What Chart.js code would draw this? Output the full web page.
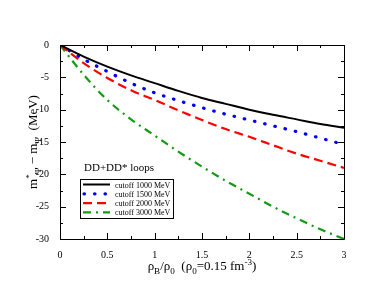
<!DOCTYPE html>
<html><head><meta charset="utf-8">
<script src="https://cdn.jsdelivr.net/npm/chart.js@4/dist/chart.umd.min.js"></script>
<style>html,body{margin:0;padding:0;background:#fff}#c{display:block}</style>
</head><body>
<div style="width:388px;height:300px"><canvas id="c" width="388" height="300"></canvas></div>
<script>
const xValues = [0, 0.25, 0.5, 0.75, 1, 1.25, 1.5, 1.75, 2, 2.25, 2.5, 2.75, 3];
const cutoff1000 = [0, -1.8, -3.35, -4.7, -5.9, -7.1, -8.2, -9.1, -10.0, -10.8, -11.5, -12.2, -12.8];
const cutoff1500 = [0, -2.2, -4.1, -5.9, -7.4, -8.6, -9.7, -10.7, -11.6, -12.5, -13.4, -14.4, -15.4];
const cutoff2000 = [0, -2.8, -5.1, -7.0, -8.5, -10.1, -11.6, -13.0, -14.2, -15.5, -16.8, -17.9, -19.0];
const cutoff3000 = [0, -4.6, -8.5, -11.5, -14.0, -16.5, -18.8, -21.0, -23.0, -25.0, -26.8, -28.5, -30.0];
const seriesLabels = ['cutoff 1000 MeV', 'cutoff 1500 MeV', 'cutoff 2000 MeV', 'cutoff 3000 MeV'];
const xTicks = [0, 0.5, 1, 1.5, 2, 2.5, 3];
const yTicks = [0, -5, -10, -15, -20, -25, -30];
const annotation = 'DD+DD* loops';

const pts = arr => arr.map((v, i) => ({x: xValues[i], y: v}));
const SERIF = '"Liberation Serif", "DejaVu Serif", serif';

const styles = [
  {color: '#000000', width: 2, dash: []},
  {color: '#0000ff', width: 3.2, dash: [0.5, 10], cap: 'round'},
  {color: '#ff0000', width: 2.2, dash: [9, 5]},
  {color: '#149a14', width: 2.2, dash: [8, 5, 2, 5]}
];
const series = [cutoff1000, cutoff1500, cutoff2000, cutoff3000];

const datasets = series.map((s, i) => ({
  label: seriesLabels[i],
  data: pts(s),
  borderColor: styles[i].color,
  borderWidth: styles[i].width,
  borderDash: styles[i].dash,
  borderCapStyle: styles[i].cap || 'butt',
  pointRadius: 0,
  cubicInterpolationMode: 'monotone',
  fill: false
}));

function drawRich(ctx, parts, x, y, size) {
  let cx = x;
  for (const [t, m] of parts) {
    const fs = m ? size * 0.7 : size;
    ctx.font = fs + 'px ' + SERIF;
    const dy = m === 'sub' ? size * 0.3 : m === 'sup' ? -size * 0.4 : 0;
    ctx.fillText(t, cx, y + dy);
    cx += ctx.measureText(t).width;
  }
  return cx - x;
}
function richWidth(ctx, parts, size) {
  let w = 0;
  for (const [t, m] of parts) {
    ctx.font = (m ? size * 0.7 : size) + 'px ' + SERIF;
    w += ctx.measureText(t).width;
  }
  return w;
}

const decor = {
  id: 'decor',
  afterDraw(chart) {
    const ctx = chart.ctx;
    const a = chart.chartArea;
    const xs = chart.scales.x, ys = chart.scales.y;
    ctx.save();
    ctx.strokeStyle = '#000';
    ctx.lineWidth = 1;
    ctx.beginPath();
    ctx.rect(Math.round(a.left) + 0.5, Math.round(a.top) + 0.5, Math.round(a.right - a.left), Math.round(a.bottom - a.top));
    ctx.stroke();
    ctx.beginPath();
    for (let v = 0; v <= 3.0001; v += 0.25) {
      const px = Math.round(xs.getPixelForValue(v)) + 0.5;
      const major = Math.abs(v * 2 - Math.round(v * 2)) < 1e-6;
      const L = major ? 6 : 3;
      ctx.moveTo(px, a.bottom); ctx.lineTo(px, a.bottom - L);
      ctx.moveTo(px, a.top); ctx.lineTo(px, a.top + L);
    }
    for (let v = 0; v >= -30.0001; v -= 2.5) {
      const py = Math.round(ys.getPixelForValue(v)) + 0.5;
      const major = Math.abs(v / 5 - Math.round(v / 5)) < 1e-6;
      const L = major ? 6 : 3;
      ctx.moveTo(a.left, py); ctx.lineTo(a.left + L, py);
      ctx.moveTo(a.right, py); ctx.lineTo(a.right - L, py);
    }
    ctx.stroke();

    ctx.fillStyle = '#000';
    ctx.textBaseline = 'alphabetic';
    ctx.font = '11px ' + SERIF;
    ctx.fillText(annotation, 84, 171);

    const bx = 80.5, by = 179.5, bw = 93, bh = 39;
    ctx.lineWidth = 1;
    ctx.strokeStyle = '#000';
    ctx.strokeRect(bx, by, bw, bh);
    chart.data.datasets.forEach((d, i) => {
      const yy = 184.5 + i * 9.3;
      ctx.save();
      ctx.strokeStyle = d.borderColor;
      ctx.lineWidth = d.borderWidth;
      ctx.setLineDash(d.borderDash);
      ctx.lineCap = d.borderCapStyle;
      ctx.beginPath();
      ctx.moveTo(i === 1 ? 84 : 83, yy); ctx.lineTo(110, yy);
      ctx.stroke();
      ctx.restore();
      ctx.fillStyle = '#000';
      ctx.font = '8px ' + SERIF;
      ctx.textAlign = 'left';
      ctx.fillText(d.label, 115, yy + 3);
    });

    const xparts = [['ρ', ''], ['B', 'sub'], ['/ρ', ''], ['0', 'sub'], ['  (ρ', ''], ['0', 'sub'], ['=0.15 fm', ''], ['-3', 'sup'], [')', '']];
    const xw = richWidth(ctx, xparts, 13);
    drawRich(ctx, xparts, (a.left + a.right) / 2 - xw / 2, 270, 13);

    const yparts = [['m', ''], ['*', 'sup'], ['Ψ', 'sub'], [' − m', ''], ['Ψ', 'sub'], ['  (MeV)', '']];
    const yw = richWidth(ctx, yparts, 13);
    ctx.save();
    ctx.translate(37, (a.top + a.bottom) / 2);
    ctx.rotate(-Math.PI / 2);
    drawRich(ctx, yparts, -yw / 2, 0, 13);
    ctx.restore();
    ctx.restore();
  }
};

new Chart(document.getElementById('c'), {
  type: 'line',
  data: {datasets},
  options: {
    responsive: false,
    animation: false,
    devicePixelRatio: 1,
    layout: {padding: {top: 45, right: 44, left: 0, bottom: 0}},
    plugins: {legend: {display: false}, tooltip: {enabled: false}},
    scales: {
      x: {
        type: 'linear', min: 0, max: 3,
        afterBuildTicks: s => { s.ticks = xTicks.map(v => ({value: v})); },
        afterFit: s => { s.height = 61; },
        grid: {display: false},
        border: {display: false},
        ticks: {color: '#000', font: {family: SERIF, size: 10}, padding: 2, maxRotation: 0,
          callback: v => String(v)}
      },
      y: {
        type: 'linear', min: -30, max: 0,
        afterBuildTicks: s => { s.ticks = yTicks.map(v => ({value: v})); },
        afterFit: s => { s.width = 60; },
        grid: {display: false},
        border: {display: false},
        ticks: {color: '#000', font: {family: SERIF, size: 10}, padding: 3,
          callback: v => String(v)}
      }
    }
  },
  plugins: [decor]
});
</script>
</body></html>
